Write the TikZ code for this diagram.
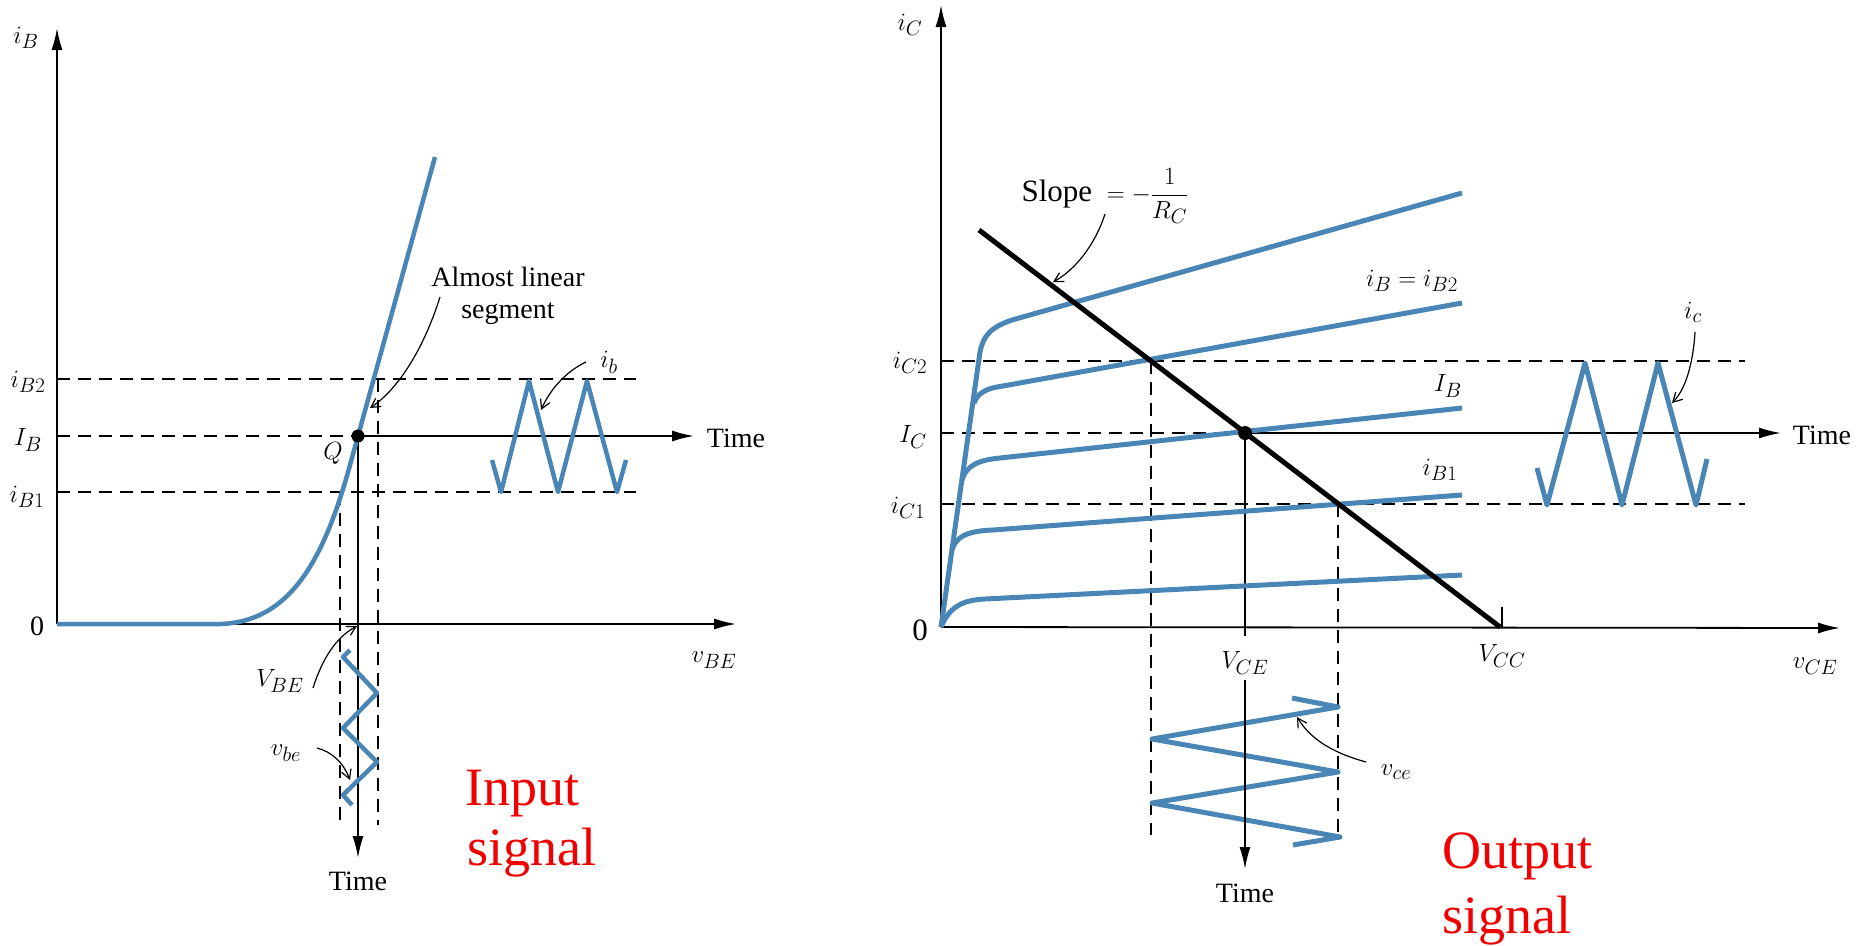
\documentclass[tikz,border=0pt]{standalone}
\usepackage{fontspec}
\setmainfont{Liberation Serif}
\usetikzlibrary{arrows.meta}
\definecolor{curveblue}{RGB}{74,134,181}
\definecolor{sigred}{RGB}{240,0,0}
\tikzset{
  axisline/.style={line width=1.8pt, -{Latex[length=22pt,width=11pt]}},
  dashline/.style={line width=1.6pt, dash pattern=on 13pt off 8pt},
  bcurve/.style={curveblue, line width=5pt, line join=round, line cap=butt},
  notearrow/.style={line width=1.2pt, -{Straight Barb[length=9pt,width=10pt]}},
  lbl/.style={font=\fontsize{31}{36}\selectfont, inner sep=0pt},
  tlbl/.style={font=\fontsize{28}{32}\selectfont, inner sep=0pt},
  slbl/.style={font=\fontsize{28}{32}\selectfont, inner sep=0pt},
  redlbl/.style={font=\fontsize{54}{60}\selectfont, text=sigred, inner sep=0pt, anchor=base west},
  qdot/.style={fill=black}
}
\begin{document}
\begin{tikzpicture}[x=1pt,y=-1pt]
\useasboundingbox (0,0) rectangle (1871,945);

% ================= LEFT PANEL =================
\coordinate (LO) at (57,624);
\coordinate (LYtop) at (57,28);
\coordinate (LXend) at (736,624);
\coordinate (LQ) at (358,436);
\coordinate (LB2a) at (57,379);
\coordinate (LB2b) at (636,379);
\coordinate (LIBa) at (57,436);
\coordinate (LTime) at (694,436);
\coordinate (LB1a) at (57,492);
\coordinate (LB1b) at (636,492);
\coordinate (LV1a) at (340,492);
\coordinate (LV1b) at (340,825);
\coordinate (LV2a) at (378,379);
\coordinate (LV2b) at (378,825);
\coordinate (LDown) at (358,858);

\draw[dashline] (LB2a) -- (LB2b);
\draw[dashline] (LIBa) -- (LQ);
\draw[dashline] (LB1a) -- (LB1b);
\draw[dashline] (LV1a) -- (LV1b);
\draw[dashline] (LV2a) -- (LV2b);
\draw[axisline] (LO) -- (LYtop);
\draw[axisline] (LO) -- (LXend);
\draw[axisline] (LQ) -- (LTime);
\draw[axisline] (LQ) -- (LDown);

% input characteristic
\draw[bcurve, line width=4.5pt] (LO) -- (220,624) .. controls (290,622) and (324,560) .. (350,465) -- (435,157);
% i_b waveform
\draw[bcurve, line width=4.5pt] (492,460) -- (501,492) -- (529,381) -- (558,492) -- (587,381) -- (617,492) -- (626,460);
% v_be waveform
\draw[bcurve, line width=4.5pt] (350,650) -- (343,657) -- (377,693) -- (343,728) -- (377,762) -- (343,795) -- (352,805);
\fill[qdot] (LQ) circle (6.5);

% labels
\node[slbl] (LiB) at (26,38) {$i_B$};
\node[slbl] (L0) at (37,626) {0};
\node[slbl] (LiB2) at (28,382) {$i_{B2}$};
\node[slbl] (LIB) at (28,440) {$I_B$};
\node[slbl] (LiB1) at (27,497) {$i_{B1}$};
\node[slbl] (LQl) at (333,453) {$Q$};
\node[slbl] (LvBE) at (714,660) {$v_{BE}$};
\node[slbl] (LVBE) at (280,681) {$V_{BE}$};
\node[slbl] (Lvbe) at (286,753) {$v_{be}$};
\node[tlbl, align=center] (Lalmost) at (508,296) {Almost linear\\segment};
\node[slbl] (Lib) at (609,362) {$i_b$};
\node[tlbl] (LTimeR) at (736,438) {Time};
\node[tlbl] (LTimeD) at (358,881) {Time};
\node[redlbl] (Lin1) at (465,805) {Input};
\node[redlbl] (Lin2) at (467,865) {signal};

% annotation arrows
\coordinate (LaA) at (440,297); \coordinate (LaB) at (370,408);
\draw[notearrow] (LaA) .. controls (425,345) and (400,388) .. (LaB);
\coordinate (LbA) at (586,362); \coordinate (LbB) at (541,410);
\draw[notearrow] (LbA) .. controls (565,372) and (550,390) .. (LbB);
\coordinate (LcA) at (313,688); \coordinate (LcB) at (357,626);
\draw[notearrow] (LcA) .. controls (322,660) and (335,638) .. (LcB);
\coordinate (LdA) at (317,748); \coordinate (LdB) at (350,780);
\draw[notearrow] (LdA) .. controls (332,752) and (343,762) .. (LdB);

% ================= RIGHT PANEL =================
\coordinate (RO) at (941,627);
\coordinate (RYtop) at (941,5);
\coordinate (RXend) at (1840,628);
\coordinate (RQ) at (1245,433);
\coordinate (RC2a) at (941,361);
\coordinate (RC2b) at (1745,361);
\coordinate (RICa) at (941,433);
\coordinate (RTime) at (1781,433);
\coordinate (RC1a) at (941,504);
\coordinate (RC1b) at (1745,504);
\coordinate (RV1a) at (1151,361);
\coordinate (RV1b) at (1151,835);
\coordinate (RV2a) at (1338,504);
\coordinate (RV2b) at (1338,835);
\coordinate (RQdown) at (1245,636);
\coordinate (RDown) at (1245,869);
\coordinate (LLa) at (979,230);
\coordinate (LLb) at (1500,627);
\coordinate (VCCt) at (1502,607);
\coordinate (VCCb) at (1502,627);

\draw[dashline] (RC2a) -- (RC2b);
\draw[dashline] (RICa) -- (RQ);
\draw[dashline] (RC1a) -- (RC1b);
\draw[dashline] (RV1a) -- (RV1b);
\draw[dashline] (RV2a) -- (RV2b);
\draw[axisline] (RO) -- (RYtop);
\draw[axisline] (RO) -- (RXend);
\draw[axisline] (RQ) -- (RTime);
\draw[line width=1.8pt] (RQ) -- (RQdown);
\draw[line width=1.8pt] (VCCt) -- (VCCb);

% output characteristics
\draw[bcurve] (RO) -- (980,352) .. controls (984,332) and (995,326) .. (1012,320) -- (1462,193);
\draw[bcurve] (974,403) .. controls (978,392) and (988,388) .. (1003,386) -- (1462,303);
\draw[bcurve] (962,480) .. controls (966,466) and (978,460) .. (1000,458) -- (1462,408);
\draw[bcurve] (952,550) .. controls (956,536) and (968,531) .. (993,530) -- (1462,495);
\draw[bcurve] (RO) .. controls (950,605) and (965,600) .. (985,599) -- (1462,575);

% load line
\draw[line width=5pt] (LLa) -- (LLb);
\fill[qdot] (RQ) circle (7);

% waveforms
\draw[bcurve] (1537,468) -- (1547,505) -- (1585,363) -- (1622,505) -- (1658,363) -- (1696,505) -- (1707,459);
\draw[bcurve] (1292,698) -- (1338,707) -- (1152,739) -- (1338,772) -- (1152,803) -- (1340,837) -- (1293,845);

% labels
\node[lbl] (RiC) at (910,25) {$i_C$};
\node[lbl] (RiC2) at (910,363) {$i_{C2}$};
\node[lbl] (RIC) at (913,437) {$I_C$};
\node[lbl] (RiC1) at (908,508) {$i_{C1}$};
\node[lbl] (R0) at (920,630) {0};
\node[lbl] (Rslope) at (1105,196) {Slope ${}= -{\displaystyle\frac{1}{R_C}}$};
\node[lbl] (RiBB2) at (1412,281) {$i_B = i_{B2}$};
\node[lbl] (RIB) at (1448,386) {$I_B$};
\node[lbl] (RiB1) at (1440,470) {$i_{B1}$};
\node[lbl] (Ric) at (1693,312) {$i_c$};
\node[tlbl] (RTimeR) at (1822,435) {Time};
\node[lbl] (RVCE) at (1245,663) {$V_{CE}$};
\node[lbl] (RVCC) at (1502,656) {$V_{CC}$};
\node[lbl] (RvCE) at (1815,666) {$v_{CE}$};
\node[lbl] (Rvce) at (1396,772) {$v_{ce}$};
\node[tlbl] (RTimeD) at (1245,893) {Time};
\node[redlbl] (Rout1) at (1442,868) {Output};
\node[redlbl] (Rout2) at (1442,933) {signal};

\draw[axisline] (RVCE.south) ++(0,5) -- (RDown);

% annotation arrows
\coordinate (RaA) at (1105,214); \coordinate (RaB) at (1053,282);
\draw[notearrow] (RaA) .. controls (1095,245) and (1075,270) .. (RaB);
\coordinate (RbA) at (1695,332); \coordinate (RbB) at (1672,403);
\draw[notearrow] (RbA) .. controls (1693,365) and (1685,390) .. (RbB);
\coordinate (RcA) at (1366,762); \coordinate (RcB) at (1297,717);
\draw[notearrow] (RcA) .. controls (1330,752) and (1310,738) .. (RcB);
\end{tikzpicture}
\end{document}
